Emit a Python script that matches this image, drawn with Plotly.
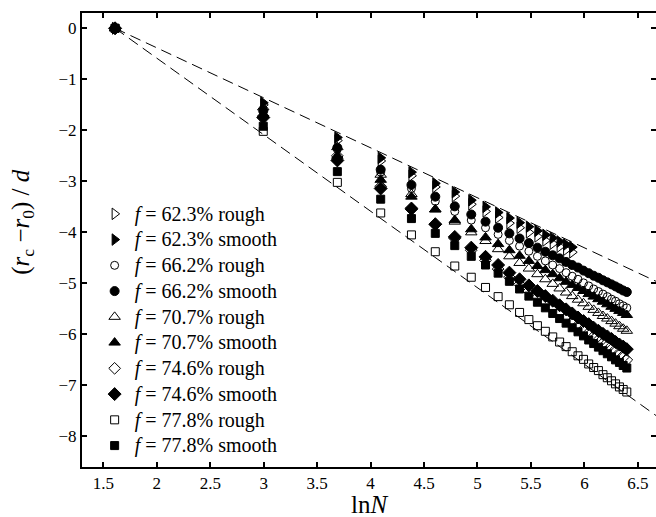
import numpy as np
import plotly.graph_objects as go

# ---- data ----
N_all = [5, 20, 40, 60, 80, 100, 120, 140, 160, 180, 200, 220, 240, 260, 280, 300,
         320, 340, 360, 380, 400, 420, 440, 460, 480, 500, 520, 540, 560, 580, 600]
N_short = N_all[:19]

f623_rough = [0, -1.50, -2.20, -2.60, -2.89, -3.11, -3.29, -3.45, -3.59, -3.71, -3.82, -3.91,
              -4.00, -4.08, -4.16, -4.22, -4.28, -4.34, -4.39]
f623_smooth = [0, -1.46, -2.14, -2.54, -2.82, -3.04, -3.21, -3.37, -3.50, -3.61, -3.72, -3.81,
               -3.89, -3.97, -4.05, -4.11, -4.18, -4.24, -4.29]
f662_rough = [0, -1.60, -2.37, -2.82, -3.14, -3.39, -3.59, -3.76, -3.91, -4.04, -4.16, -4.27,
              -4.37, -4.47, -4.56, -4.64, -4.71, -4.79, -4.86, -4.92, -4.99, -5.05, -5.11,
              -5.16, -5.21, -5.26, -5.31, -5.35, -5.40, -5.44, -5.48]
f662_smooth = [0, -1.62, -2.34, -2.77, -3.07, -3.30, -3.49, -3.65, -3.79, -3.91, -4.02, -4.12,
               -4.21, -4.30, -4.38, -4.45, -4.51, -4.58, -4.64, -4.69, -4.75, -4.80, -4.85,
               -4.89, -4.94, -4.98, -5.02, -5.06, -5.10, -5.14, -5.17]
f707_rough = [0, -1.55, -2.33, -2.87, -3.25, -3.55, -3.79, -4.00, -4.17, -4.33, -4.47, -4.60,
              -4.71, -4.82, -4.92, -5.01, -5.10, -5.18, -5.25, -5.32, -5.39, -5.46, -5.52,
              -5.58, -5.64, -5.69, -5.74, -5.79, -5.84, -5.89, -5.93]
f707_smooth = [0, -1.70, -2.50, -2.97, -3.30, -3.55, -3.76, -3.94, -4.10, -4.23, -4.35, -4.46,
               -4.56, -4.66, -4.74, -4.82, -4.90, -4.97, -5.03, -5.09, -5.15, -5.21, -5.26,
               -5.31, -5.36, -5.41, -5.46, -5.50, -5.54, -5.58, -5.62]
f746_rough = [0, -1.72, -2.50, -3.10, -3.52, -3.85, -4.12, -4.35, -4.55, -4.72, -4.88, -5.02,
              -5.15, -5.27, -5.37, -5.48, -5.57, -5.66, -5.75, -5.82, -5.90, -5.97, -6.04,
              -6.11, -6.17, -6.23, -6.29, -6.34, -6.40, -6.45, -6.50]
f746_smooth = [0, -1.75, -2.59, -3.14, -3.54, -3.84, -4.09, -4.30, -4.48, -4.64, -4.79, -4.92,
               -5.04, -5.15, -5.25, -5.34, -5.43, -5.51, -5.59, -5.67, -5.74, -5.80, -5.87,
               -5.93, -5.99, -6.04, -6.09, -6.15, -6.20, -6.24, -6.29]
f778_rough = [0, -2.02, -3.02, -3.62, -4.05, -4.38, -4.66, -4.88, -5.08, -5.26, -5.42, -5.57,
              -5.71, -5.83, -5.94, -6.05, -6.15, -6.24, -6.34, -6.42, -6.49, -6.58, -6.65,
              -6.71, -6.79, -6.85, -6.91, -6.97, -7.03, -7.08, -7.13]
f778_smooth = [0, -1.92, -2.81, -3.35, -3.73, -4.02, -4.26, -4.47, -4.64, -4.80, -4.96, -5.11,
               -5.25, -5.37, -5.48, -5.59, -5.69, -5.78, -5.87, -5.95, -6.03, -6.11, -6.18,
               -6.25, -6.32, -6.38, -6.44, -6.50, -6.55, -6.61, -6.66]

labels = ["<i>f</i> = 62.3% rough", "<i>f</i> = 62.3% smooth",
          "<i>f</i> = 66.2% rough", "<i>f</i> = 66.2% smooth",
          "<i>f</i> = 70.7% rough", "<i>f</i> = 70.7% smooth",
          "<i>f</i> = 74.6% rough", "<i>f</i> = 74.6% smooth",
          "<i>f</i> = 77.8% rough", "<i>f</i> = 77.8% smooth"]

# reference lines through (ln 5, 0)
N0 = 5
guide_slopes = [-0.98, -1.5]

x_ticks = [1.5, 2, 2.5, 3, 3.5, 4, 4.5, 5, 5.5, 6, 6.5]
y_ticks = [0, -1, -2, -3, -4, -5, -6, -7, -8]
x_range = [1.3, 6.67]
y_range = [-8.6, 0.3]

# ---- figure ----
FONT = "Liberation Serif"
fig = go.Figure()

x0 = np.log(N0)
for s in guide_slopes:
    xs = [x0, x_range[1]]
    ys = [0, s * (x_range[1] - x0)]
    fig.add_trace(go.Scatter(x=xs, y=ys, mode="lines", showlegend=False,
                             line=dict(color="black", width=1, dash="11px,6px")))

series = [
    (N_short, f623_rough, "triangle-right-open", 10),
    (N_short, f623_smooth, "triangle-right", 10),
    (N_all, f662_rough, "circle-open", 8),
    (N_all, f662_smooth, "circle", 9),
    (N_all, f707_rough, "triangle-up-open", 10),
    (N_all, f707_smooth, "triangle-up", 10),
    (N_all, f746_rough, "diamond-open", 9),
    (N_all, f746_smooth, "diamond", 10),
    (N_all, f778_rough, "square-open", 8),
    (N_all, f778_smooth, "square", 8),
]
for (Ns, ys, sym, sz), lab in zip(series, labels):
    fig.add_trace(go.Scatter(x=np.log(Ns), y=ys, mode="markers",
                             name='<span style="font-size:20px">' + lab + "</span>",
                             marker=dict(symbol=sym, size=sz, color="black",
                                         line=dict(color="black", width=1))))

# invisible trace to anchor right-side tick axis
fig.add_trace(go.Scatter(x=[x_range[0]], y=[y_range[0]], yaxis="y2", mode="markers",
                         marker=dict(opacity=0), showlegend=False, hoverinfo="skip"))

axis_common = dict(showgrid=False, zeroline=False, linecolor="black", linewidth=2,
                   ticks="inside", ticklen=5, tickwidth=2, tickcolor="black",
                   tickfont=dict(family=FONT, size=17, color="black"))

fig.update_layout(
    width=656, height=517,
    margin=dict(l=82, r=0, t=13, b=50),
    paper_bgcolor="white", plot_bgcolor="white",
    font=dict(family=FONT, color="black"),
    xaxis=dict(range=x_range, tickvals=x_ticks, showline=True, mirror="ticks", **axis_common),
    yaxis=dict(range=y_range, tickvals=y_ticks, showline=True, mirror=False, **axis_common),
    yaxis2=dict(range=y_range, tickvals=y_ticks, overlaying="y", side="right",
                showline=False, showticklabels=False, showgrid=False, zeroline=False,
                ticks="inside", ticklen=5, tickwidth=2, tickcolor="black"),
    legend=dict(x=0.022, y=0.597, xanchor="left", yanchor="top",
                bgcolor="rgba(0,0,0,0)", borderwidth=0,
                font=dict(family=FONT, size=17.5, color="black"),
                tracegroupgap=0, itemwidth=30),
    showlegend=True,
    annotations=[
        dict(text="ln<i>N</i>", xref="paper", yref="paper", x=0.5, y=-0.0815,
             showarrow=False, font=dict(family=FONT, size=25, color="black"),
             xanchor="center", yanchor="middle"),
        dict(text="(<i>r</i><sub>c</sub> \u2212<i>r</i><sub>0</sub>) / <i>d</i>",
             xref="paper", yref="paper", x=-0.103, y=0.54, textangle=-90,
             showarrow=False, font=dict(family=FONT, size=25, color="black"),
             xanchor="center", yanchor="middle"),
    ],
)

fig.write_html("out.html")
